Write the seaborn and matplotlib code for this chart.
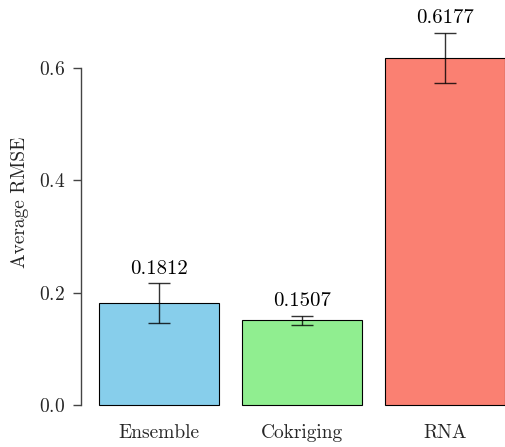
import matplotlib
matplotlib.use("Agg")
import matplotlib.pyplot as plt
import seaborn as sns
import pandas as pd

# Average RMSE per model, with the spread across runs
models = ["Ensemble", "Cokriging", "RNA"]
rmse_mean = [0.1812, 0.1507, 0.6177]
rmse_std = [0.0356, 0.0077, 0.0445]
bar_colors = ["#87CEEB", "#90EE90", "#FA8072"]
y_ticks = [0.0, 0.2, 0.4, 0.6]

sns.set_theme(style="ticks")
plt.rcParams["font.family"] = ["cmr10", "DejaVu Serif"]
plt.rcParams["mathtext.fontset"] = "cm"
plt.rcParams["axes.formatter.use_mathtext"] = True

df = pd.DataFrame({"model": models, "rmse": rmse_mean, "std": rmse_std})

fig = plt.figure(figsize=(5.05, 4.47), dpi=100)
ax = fig.add_axes([81 / 505, 42 / 447, 424 / 505, 405 / 447])

sns.barplot(data=df, x="model", y="rmse", hue="model", order=models,
            palette=bar_colors, saturation=1, width=0.84, edgecolor="black",
            linewidth=0.8, errorbar=None, legend=False, ax=ax)

xpos = list(range(len(models)))
ax.errorbar(xpos, df["rmse"], yerr=df["std"], fmt="none", ecolor="black",
            alpha=0.8, elinewidth=1.0, capsize=8, capthick=1.0, zorder=3)

for x, m, s in zip(xpos, rmse_mean, rmse_std):
    ax.annotate(f"{m:.4f}", xy=(x, m + s), xytext=(0, 4),
                textcoords="offset points", ha="center", va="bottom",
                fontsize=15, color="black")

ax.set_xlim(-0.544, 2.42)
ax.set_ylim(0, 0.721)
ax.set_yticks(y_ticks)
ax.set_xlabel("")
ax.set_ylabel("Average RMSE", fontsize=14, labelpad=7)

sns.despine(ax=ax, bottom=True)
ax.spines["left"].set_bounds(0, 0.6)
ax.spines["left"].set_color("#444444")
ax.spines["left"].set_linewidth(1.0)
ax.tick_params(axis="x", length=0, pad=13.5, labelsize=14)
ax.tick_params(axis="y", length=5.5, width=1.0, pad=6, labelsize=14,
               color="#444444")
for b in ax.patches:
    b.set_clip_on(False)

fig.savefig("out.png", dpi=100)
